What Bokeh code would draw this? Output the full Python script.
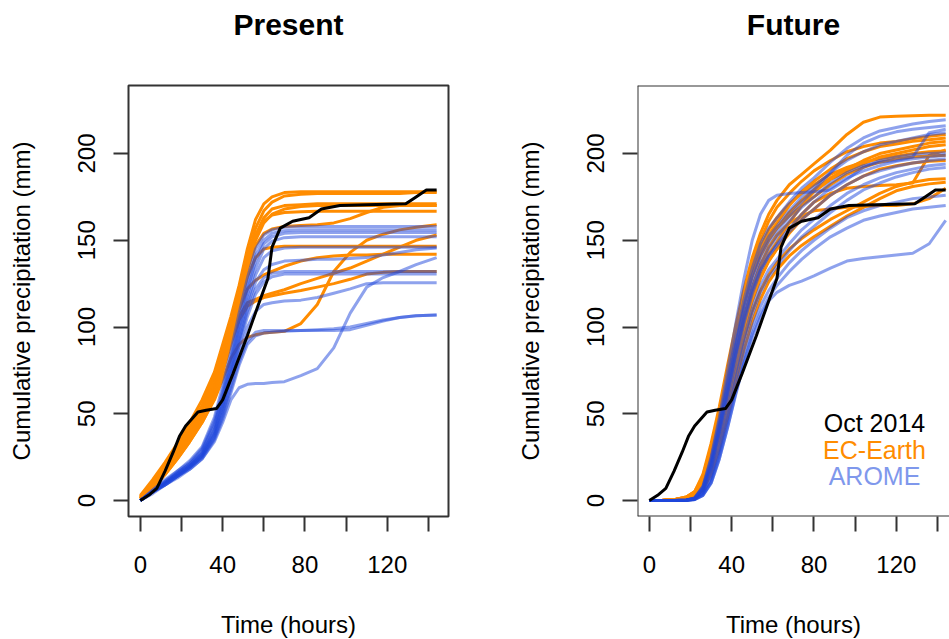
from bokeh.plotting import figure
from bokeh.layouts import row
from bokeh.models import FixedTicker, Span, Range1d, ColumnDataSource, LinearAxis
from bokeh.embed import file_html
from bokeh.resources import INLINE
from bokeh.core.properties import value

FONT = "Liberation Sans"

# ---------------- data ----------------
panel_titles = ["Present", "Future"]
x_label = "Time (hours)"
y_label = "Cumulative precipitation (mm)"
x_major_ticks = [0, 40, 80, 120]
x_minor_ticks = [20, 60, 100, 140]
y_ticks = [0, 50, 100, 150, 200]
legend_labels = ["Oct 2014", "EC-Earth", "AROME"]

# observed event (Oct 2014), same in both panels
obs_hours = [0, 4, 8, 12, 16, 19, 22, 25, 28, 32, 37, 40, 45, 52, 58, 62, 64, 68, 74, 82, 88, 97, 110, 129, 134, 139, 144]
obs_precip = [0, 3, 7, 17, 28, 37, 43, 47, 51, 52, 53, 58, 73, 95, 115, 128, 146, 157, 161, 163, 168, 170, 170.5, 171, 175, 179, 179]

# present climate
present_hours = [0, 6, 12, 18, 24, 30, 36, 40, 44, 48, 52, 56, 60, 64, 70, 78, 86, 94, 102, 110, 118, 126, 134, 144]
present_ecearth = [
    [3, 12, 22, 33, 45, 58, 74, 90, 106, 124, 145, 162, 171, 175, 177.5, 178, 178, 178, 178, 178, 178, 178, 178, 178],
    [2, 11, 21, 31, 42, 55, 71, 87, 103, 120, 140, 157, 167, 172, 175.5, 176.5, 177, 177, 177, 177, 177, 177, 177.5, 177.5],
    [2, 10, 19, 29, 40, 52, 68, 84, 100, 118, 137, 153, 163, 168, 170, 170.5, 171, 171, 171, 171, 171, 171, 171, 171],
    [2, 10, 19, 28, 39, 51, 66, 82, 99, 117, 135, 150, 160, 165, 168, 169.5, 170, 170, 170, 170, 170, 170, 170, 170],
    [1, 9, 18, 27, 37, 49, 64, 80, 97, 116, 135, 152, 161, 164.5, 166, 166.5, 166.7, 166.7, 166.7, 166.7, 166.7, 166.7, 166.7, 166.7],
    [2, 9, 18, 27, 37, 49, 64, 79, 96, 115, 133, 147, 154, 156.5, 158, 158.5, 159, 160, 162.5, 166, 169, 170, 170, 170],
    [1, 8, 17, 26, 36, 47, 62, 78, 95, 112, 129, 140, 145, 146, 146.5, 146.5, 146.5, 146.5, 146.5, 146.5, 146.5, 146.5, 146.5, 146.5],
    [1, 8, 16, 25, 35, 46, 60, 75, 91, 106, 114, 116, 118, 119.5, 121.5, 125, 128, 131, 134, 138, 142, 146, 150, 153],
    [1, 8, 16, 25, 35, 46, 61, 77, 94, 110, 122, 127, 130, 132, 135, 138, 140, 141, 141.5, 141.5, 142, 142, 142, 142],
    [1, 7, 15, 24, 34, 45, 59, 74, 90, 104, 112, 115, 117, 118, 119.5, 121, 123, 125, 127.5, 130.5, 131.5, 132, 132, 132],
    [1, 7, 15, 24, 34, 45, 58, 70, 82, 90, 94, 95.5, 96.5, 97, 97.5, 102, 113, 132, 143, 150, 153.5, 156, 157.5, 159],
]
present_arome = [
    [0, 6, 12, 17, 23, 31, 48, 66, 86, 108, 128, 145, 153, 156, 157.5, 158, 158, 158, 158, 158, 158, 158, 158, 158],
    [0, 6, 11, 17, 22, 30, 46, 63, 83, 104, 124, 141, 150, 154, 155.5, 156, 156, 156, 156, 156, 156, 156, 156, 156],
    [0, 5, 11, 16, 21, 29, 44, 60, 80, 101, 121, 138, 148, 152, 154, 154.5, 154.5, 154.5, 154.5, 154.5, 154.5, 154.5, 154.5, 154.5],
    [0, 5, 10, 16, 21, 28, 43, 59, 78, 99, 118, 134, 145, 149.5, 151.5, 152, 152, 152, 152, 152, 152, 152, 152, 152],
    [0, 5, 10, 15, 20, 27, 41, 57, 76, 96, 114, 130, 140, 144, 145.5, 146, 146, 146, 146, 146, 146, 146, 146, 146],
    [0, 5, 10, 15, 20, 27, 40, 55, 73, 93, 112, 126, 133, 136, 138, 138.5, 139, 139, 139.5, 140, 141.5, 143, 144.5, 145.5],
    [0, 5, 10, 15, 20, 26, 39, 54, 72, 91, 109, 122, 128.5, 131, 132, 132, 132, 132, 132, 132, 132, 132, 132, 132],
    [0, 5, 10, 14, 19, 26, 38, 52, 70, 89, 106, 119, 126, 129, 130.5, 130.5, 130.5, 130.5, 130.5, 130.5, 130.5, 130.5, 130.5, 130.5],
    [0, 5, 9, 14, 19, 25, 37, 50, 67, 85, 100, 109, 113, 114, 115, 115.5, 117, 119.5, 122, 125, 125.5, 125.5, 125.5, 125.5],
    [0, 5, 9, 14, 19, 25, 36, 49, 64, 80, 92, 97, 98, 98, 98, 98, 98, 98, 98.5, 101, 103.5, 105.5, 106.5, 107],
    [0, 4, 9, 13, 18, 24, 35, 47, 62, 78, 90, 95, 96.5, 97, 97.5, 98, 98.5, 99, 100, 102, 104, 105.5, 106.5, 107],
    [0, 5, 9, 14, 18, 24, 34, 45, 58, 65, 67, 67.5, 67.5, 68, 68.5, 72, 76, 88, 108, 123, 128.5, 132, 136, 140],
]

# future climate
future_hours = [0, 6, 12, 18, 22, 26, 30, 34, 38, 42, 46, 50, 54, 58, 62, 68, 74, 80, 88, 96, 104, 112, 120, 128, 136, 144]
future_ecearth = [
    [0, 0, 0.5, 2, 5, 15, 33, 54, 78, 101, 122, 140, 154, 165, 173, 182, 188, 194, 202, 211, 218, 221, 221.5, 221.8, 222, 222],
    [0, 0, 0.5, 2, 5, 14, 31, 51, 74, 97, 118, 136, 150, 161, 169, 177, 184, 190, 196, 201, 204, 206, 207, 208.5, 210, 211],
    [0, 0, 0.5, 1.5, 4, 11, 27, 47, 70, 93, 113, 130, 143, 153, 160, 170, 178, 184, 191, 197, 201, 204, 205.5, 207, 208, 209],
    [0, 0, 0.5, 1.5, 4, 12, 28, 48, 71, 93, 113, 129, 141, 150, 157, 166, 173, 179, 186, 191, 196, 200, 202, 204, 206, 207],
    [0, 0, 0.5, 1.5, 3, 9, 22, 40, 61, 83, 103, 120, 133, 142, 149, 160, 170, 178, 185, 190, 194, 198, 200, 202, 204, 205],
    [0, 0, 0.5, 1.5, 3, 8, 20, 37, 57, 78, 98, 115, 128, 138, 145, 156, 165, 172, 177, 180, 181, 181.5, 182, 183, 199, 202],
    [0, 0, 0.5, 1.5, 4, 12, 29, 49, 72, 95, 115, 132, 144, 152, 157, 164, 170, 175, 182, 188, 192, 195, 197, 198, 198.5, 199],
    [0, 0, 0.5, 1.5, 3, 8, 19, 35, 54, 74, 93, 109, 121, 130, 137, 145, 151, 156, 162, 167, 172, 177, 181, 183.5, 185, 185.5],
    [0, 0, 0.5, 1, 2, 6, 15, 30, 48, 68, 87, 103, 116, 126, 133, 141, 147, 152, 158, 164, 169, 174, 178.5, 181, 182.5, 183.5],
    [0, 0, 0.5, 1.5, 4, 10, 24, 43, 64, 86, 106, 123, 136, 146, 153, 160, 164, 167, 168, 169, 169.5, 170, 170, 171, 174, 180],
    [0, 0, 0.5, 1, 3, 9, 21, 38, 58, 79, 99, 116, 129, 138, 145, 154, 162, 168, 176, 182, 187, 191, 193, 194.5, 195.5, 196],
    [0, 0, 0.5, 2, 5, 13, 30, 50, 73, 96, 116, 133, 146, 156, 163, 171, 177, 182, 188, 192, 195, 197, 198.5, 200, 201, 201.5],
]
future_arome = [
    [0, 0, 0, 0.3, 1.5, 8, 24, 46, 70, 94, 116, 134, 148, 157, 163, 172, 180, 186, 195, 203, 209, 213, 215, 217, 218.5, 219.5],
    [0, 0, 0, 0.3, 1, 6, 19, 39, 62, 85, 106, 123, 136, 145, 152, 161, 169, 175, 183, 189, 193, 195, 196, 198, 212, 214],
    [0, 0, 0, 0.3, 1.2, 7, 22, 43, 67, 91, 112, 130, 143, 152, 158, 167, 175, 181, 189, 196, 201, 205, 207, 209, 211, 212],
    [0, 0, 0, 0.2, 1, 5, 17, 36, 58, 81, 102, 119, 132, 141, 148, 157, 165, 172, 180, 186, 190, 193, 195.5, 197, 198, 199],
    [0, 0, 0, 0.2, 1, 6, 19, 39, 61, 84, 104, 121, 133, 141, 147, 155, 162, 168, 176, 182, 187, 190, 192.5, 194.5, 196, 197],
    [0, 0, 0, 0.2, 0.8, 4, 14, 31, 52, 74, 94, 111, 124, 133, 139, 148, 156, 162, 170, 177, 182, 186, 189, 191, 193, 194],
    [0, 0, 0, 0.2, 0.8, 4, 13, 29, 49, 70, 90, 107, 120, 129, 135, 144, 152, 158, 166, 173, 179, 183, 186.5, 189, 191, 192],
    [0, 0, 0, 0.3, 1.5, 8, 25, 48, 75, 102, 128, 150, 165, 173, 176, 177, 177.5, 178, 179, 185, 192, 196, 198, 199.5, 200, 200.5],
    [0, 0, 0, 0.2, 0.6, 3, 11, 26, 45, 65, 84, 100, 112, 121, 128, 137, 144, 150, 157, 163, 167, 170, 172, 174, 175, 176],
    [0, 0, 0, 0.2, 0.6, 3, 10, 24, 42, 62, 80, 96, 108, 117, 124, 132, 139, 145, 152, 157, 161.5, 164, 166, 168, 169, 170],
    [0, 0, 0, 0.2, 0.5, 3, 10, 24, 42, 61, 79, 94, 106, 115, 120, 124, 126.5, 129.5, 134, 138, 139.5, 140.5, 141.5, 142.5, 148, 161.5],
    [0, 0, 0, 0.3, 1.3, 7, 21, 42, 65, 89, 110, 127, 140, 149, 155, 164, 172, 179, 189, 199, 206, 210, 212.5, 214, 215, 216],
]

# ---------------- styling ----------------
ORANGE = "#FF8C00"
BLUE = "#1E46DC"
BOX = "#333333"
X_START, X_END_FULL, X_END_CUT = -5.76, 149.76, 145.85
Y_START, Y_END = -9.2, 239.2


def make_panel(title, hours, ecearth, arome, x_end, frame_w, left_border, right_border, full_box):
    p = figure(
        frame_width=frame_w,
        frame_height=431,
        min_border_left=left_border,
        min_border_right=right_border,
        min_border_top=85,
        min_border_bottom=121,
        x_range=Range1d(X_START, x_end),
        y_range=Range1d(Y_START, Y_END),
        output_backend="svg",
        toolbar_location=None,
        background_fill_color="white",
        border_fill_color="white",
    )
    p.grid.visible = False
    if full_box:
        p.outline_line_color = BOX
        p.outline_line_width = 2
    else:
        p.outline_line_color = None
        for loc, dim in [(Y_START, "width"), (Y_END, "width"), (X_START, "height")]:
            p.add_layout(Span(location=loc, dimension=dim, line_color=BOX, line_width=2))

    bottom_axis = p.below[0]
    left_axis = p.left[0]
    bottom_axis.ticker = FixedTicker(ticks=x_major_ticks, minor_ticks=x_minor_ticks)
    left_axis.ticker = FixedTicker(ticks=y_ticks, minor_ticks=[])
    for ax in (bottom_axis, left_axis):
        ax.axis_line_color = None
        ax.major_tick_in = 0
        ax.major_tick_out = 15
        ax.major_tick_line_color = BOX
        ax.major_tick_line_width = 2
        ax.minor_tick_in = 0
        ax.minor_tick_out = 15
        ax.minor_tick_line_color = BOX
        ax.minor_tick_line_width = 2
        ax.major_label_text_font = FONT
        ax.major_label_text_font_size = "24px"
        ax.major_label_text_color = "black"
        ax.axis_label_text_font = FONT
        ax.axis_label_text_font_size = "24px"
        ax.axis_label_text_font_style = "normal"
        ax.axis_label_text_color = "black"
    left_axis.minor_tick_out = 0
    bottom_axis.axis_label = x_label
    left_axis.axis_label = y_label
    left_axis.major_label_orientation = "vertical"
    bottom_axis.major_label_standoff = 24
    left_axis.major_label_standoff = 18
    bottom_axis.axis_label_standoff = 35
    left_axis.axis_label_standoff = 41

    # panel title drawn as the label of a tick-less axis above the frame
    title_axis = LinearAxis(
        ticker=FixedTicker(ticks=[], minor_ticks=[]),
        axis_label=title,
        axis_line_color=None,
        major_tick_in=0, major_tick_out=0,
        minor_tick_in=0, minor_tick_out=0,
        major_label_standoff=0,
        axis_label_standoff=45,
        axis_label_text_font=FONT,
        axis_label_text_font_size="30px",
        axis_label_text_font_style="bold",
        axis_label_text_color="black",
    )
    p.add_layout(title_axis, "above")

    n_e = len(ecearth)
    p.multi_line(xs=[hours] * n_e, ys=ecearth, line_color=ORANGE, line_width=3)
    n_a = len(arome)
    p.multi_line(xs=[hours] * n_a, ys=arome, line_color=BLUE, line_alpha=0.5, line_width=3)
    p.line(obs_hours, obs_precip, line_color="black", line_width=3)
    return p


p1 = make_panel(panel_titles[0], present_hours, present_ecearth, present_arome,
                X_END_FULL, 320, 128, 50, True)
p2 = make_panel(panel_titles[1], future_hours, future_ecearth, future_arome,
                X_END_CUT, 312, 139, 0, False)

legend_src = ColumnDataSource(dict(
    x=[109.4, 109.4, 109.4],
    y=[44.4, 29.4, 14.4],
    text=legend_labels,
    color=["black", ORANGE, "#7F98EC"],
))
p2.text(x="x", y="y", text="text", text_color="color", source=legend_src,
        text_align="center", text_baseline="middle",
        text_font=value(FONT), text_font_size="25px")

layout = row(p1, p2)
open("out.html", "w").write(file_html(layout, INLINE))
